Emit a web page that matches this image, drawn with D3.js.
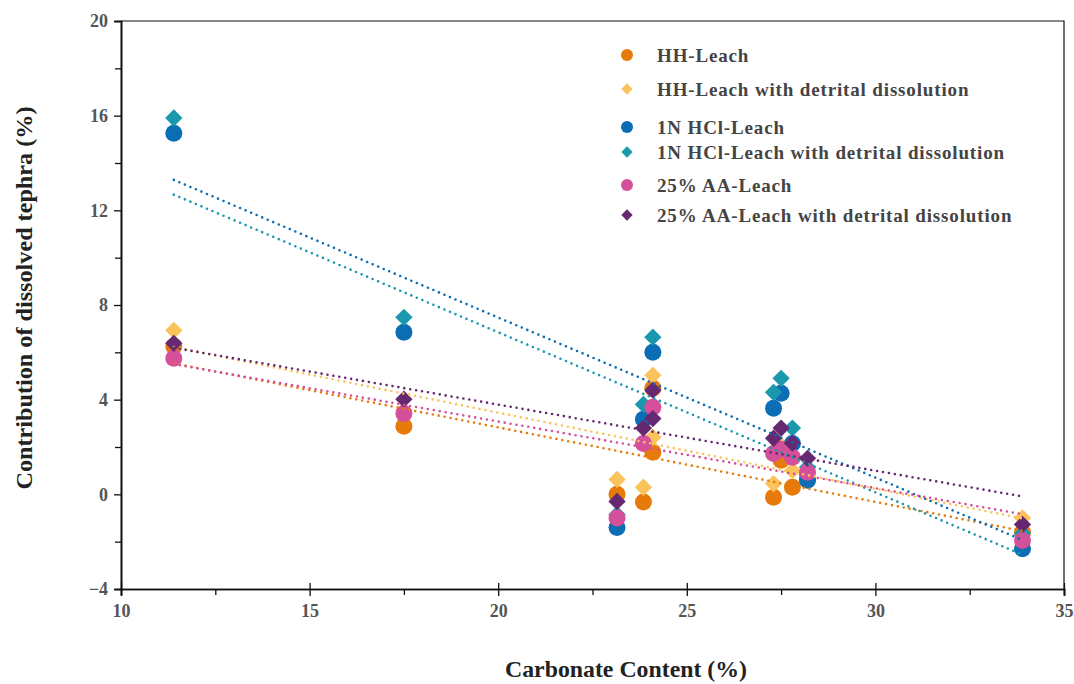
<!DOCTYPE html>
<html>
<head>
<meta charset="utf-8">
<script src="https://cdn.jsdelivr.net/npm/d3@7"></script>
<style>
  body { margin: 0; background: #fff; }
  svg { font-family: "Liberation Serif", "Times New Roman", serif; }
</style>
</head>
<body>
<div id="chart"></div>
<script>
/********** Data **********/
var carbonate = [11.4, 17.5, 23.15, 23.85, 24.1, 24.1, 27.3, 27.5, 27.8, 28.2, 33.9]

var hhLeach      = [6.26, 2.88, 0.0, -0.32, 4.48, 1.78, -0.12, 1.44, 0.3, 0.65, -1.6]
var hhDetrital   = [6.93, 3.55, 0.63, 0.3, 5.03, 2.41, 0.45, 2.07, 1.0, 0.9, -1.0]
var hclLeach     = [15.26, 6.85, -1.4, 3.17, 6.0, null, 3.64, 4.27, 2.15, 0.6, -2.3]
var hclDetrital  = [15.9, 7.48, -0.85, 3.8, 6.64, null, 4.31, 4.9, 2.8, 1.14, -1.65]
var aaLeach      = [5.75, 3.42, -1.0, 2.15, 3.68, null, 1.73, 1.9, 1.57, 0.93, -1.95]
var aaDetrital   = [6.38, 4.02, -0.3, 2.8, 4.4, 3.2, 2.37, 2.8, 2.16, 1.52, -1.27]

var seriesNames = ["HH-Leach", "HH-Leach with detrital dissolution",
                   "1N HCl-Leach", "1N HCl-Leach with detrital dissolution",
                   "25% AA-Leach", "25% AA-Leach with detrital dissolution"]
var seriesValues = [hhLeach, hhDetrital, hclLeach, hclDetrital, aaLeach, aaDetrital]
var seriesShapes = ["circle", "diamond", "circle", "diamond", "circle", "diamond"]
var seriesColors = ["#e67b0c", "#fbc35c", "#0b6db4", "#1b98ae", "#d5509a", "#662871"]
// the original figure swaps the two HCl trendline colours
var trendColors  = ["#e67b0c", "#fbc35c", "#1b98ae", "#0b6db4", "#d5509a", "#662871"]

var xTicks = [10, 15, 20, 25, 30, 35]
var yTicks = [-4, 0, 4, 8, 12, 16, 20]

/********** Layout **********/
var W = 1074, H = 684
var margin = {top: 21, right: 10, bottom: 95, left: 121}
var width = 1064 - margin.left, height = 589 - margin.top

var svg = d3.select("#chart").append("svg")
    .attr("width", W).attr("height", H)

var g = svg.append("g")
    .attr("transform", "translate(" + margin.left + "," + margin.top + ")")

var x = d3.scaleLinear().domain([10, 35]).range([0, width])
var y = d3.scaleLinear().domain([-4, 20]).range([height, 0])

// frame (top + right)
g.append("path")
  .attr("d", "M0,0H" + width + "V" + height)
  .attr("fill", "none").attr("stroke", "#111").attr("stroke-width", 1.2)

// minor ticks
var xAxisMinor = d3.axisBottom(x).tickValues(d3.range(12.5, 35, 5)).tickSize(6).tickFormat("")
var yAxisMinor = d3.axisLeft(y).tickValues(d3.range(-2, 20, 4)).tickSize(6).tickFormat("")

var gxm = g.append("g").attr("transform", "translate(0," + height + ")").call(xAxisMinor)
var gym = g.append("g").call(yAxisMinor)

// main axes
var gx = g.append("g")
    .attr("transform", "translate(0," + height + ")")
    .call(d3.axisBottom(x).tickValues(xTicks).tickSize(7).tickPadding(8))
var gy = g.append("g")
    .call(d3.axisLeft(y).tickValues(yTicks).tickSize(7).tickPadding(6))

;[gx, gy, gxm, gym].forEach(function(a) {
  a.select(".domain").attr("stroke", "#111").attr("stroke-width", 1.6)
  a.selectAll(".tick line").attr("stroke", "#111").attr("stroke-width", 1.3)
})
gx.selectAll(".tick line").attr("y1", -6)
;[gx, gy].forEach(function(a) {
  a.selectAll(".tick text")
    .style("font-family", "'Liberation Serif', serif")
    .style("font-weight", "bold")
    .style("font-size", "18px")
    .attr("fill", "#555")
})

// axis titles
svg.append("text")
  .attr("x", 626).attr("y", 677)
  .attr("text-anchor", "middle")
  .attr("textLength", 242).attr("lengthAdjust", "spacingAndGlyphs")
  .style("font-weight", "bold").style("font-size", "23px")
  .attr("fill", "#222")
  .text("Carbonate Content (%)")

svg.append("text")
  .attr("transform", "translate(32," + 298 + ") rotate(-90)")
  .attr("text-anchor", "middle")
  .attr("textLength", 383).attr("lengthAdjust", "spacingAndGlyphs")
  .style("font-weight", "bold").style("font-size", "23px")
  .attr("fill", "#222")
  .text("Contribution of dissolved tephra (%)")

/********** Points **********/
var diamond = d3.symbol().type(d3.symbolSquare).size(150)

seriesValues.forEach(function(vals, s) {
  var pts = carbonate.map(function(c, i) { return {x: c, y: vals[i]} })
                     .filter(function(d) { return d.y != null })
  var layer = g.append("g")
  if (seriesShapes[s] == "circle") {
    layer.selectAll("circle").data(pts).enter().append("circle")
      .attr("cx", function(d) { return x(d.x) })
      .attr("cy", function(d) { return y(d.y) })
      .attr("r", 8.5)
      .attr("fill", seriesColors[s])
  } else {
    layer.selectAll("path").data(pts).enter().append("path")
      .attr("d", diamond)
      .attr("transform", function(d) { return "translate(" + x(d.x) + "," + y(d.y) + ") rotate(45)" })
      .attr("fill", seriesColors[s])
  }
})

/********** Linear trend lines **********/
seriesValues.forEach(function(vals, s) {
  var pts = carbonate.map(function(c, i) { return [c, vals[i]] })
                     .filter(function(d) { return d[1] != null })
  var mx = d3.mean(pts, function(d) { return d[0] })
  var my = d3.mean(pts, function(d) { return d[1] })
  var sxy = d3.sum(pts, function(d) { return (d[0] - mx) * (d[1] - my) })
  var sxx = d3.sum(pts, function(d) { return (d[0] - mx) * (d[0] - mx) })
  var slope = sxy / sxx, icpt = my - slope * mx
  var ends = d3.extent(pts, function(d) { return d[0] })
  g.append("path")
    .datum(ends)
    .attr("fill", "none")
    .attr("stroke", trendColors[s])
    .attr("stroke-width", 2.6)
    .attr("stroke-linecap", "round")
    .attr("stroke-dasharray", "0 6")
    .attr("d", d3.line()
      .x(function(d) { return x(d) })
      .y(function(d) { return y(slope * d + icpt) }))
})

/********** Legend **********/
var legendY = [55, 89, 127, 152, 185, 215]
var legend = svg.append("g")
seriesNames.forEach(function(name, s) {
  var row = legend.append("g").attr("transform", "translate(627," + legendY[s] + ")")
  if (seriesShapes[s] == "circle") {
    row.append("circle").attr("r", 6).attr("fill", seriesColors[s])
  } else {
    row.append("path").attr("d", d3.symbol().type(d3.symbolSquare).size(64))
      .attr("transform", "rotate(45)").attr("fill", seriesColors[s])
  }
  row.append("text")
    .attr("x", 30).attr("dy", "0.35em")
    .style("font-weight", "bold").style("font-size", "19px")
    .style("letter-spacing", "0.85px")
    .attr("fill", "#444")
    .text(name)
})
</script>
</body>
</html>
